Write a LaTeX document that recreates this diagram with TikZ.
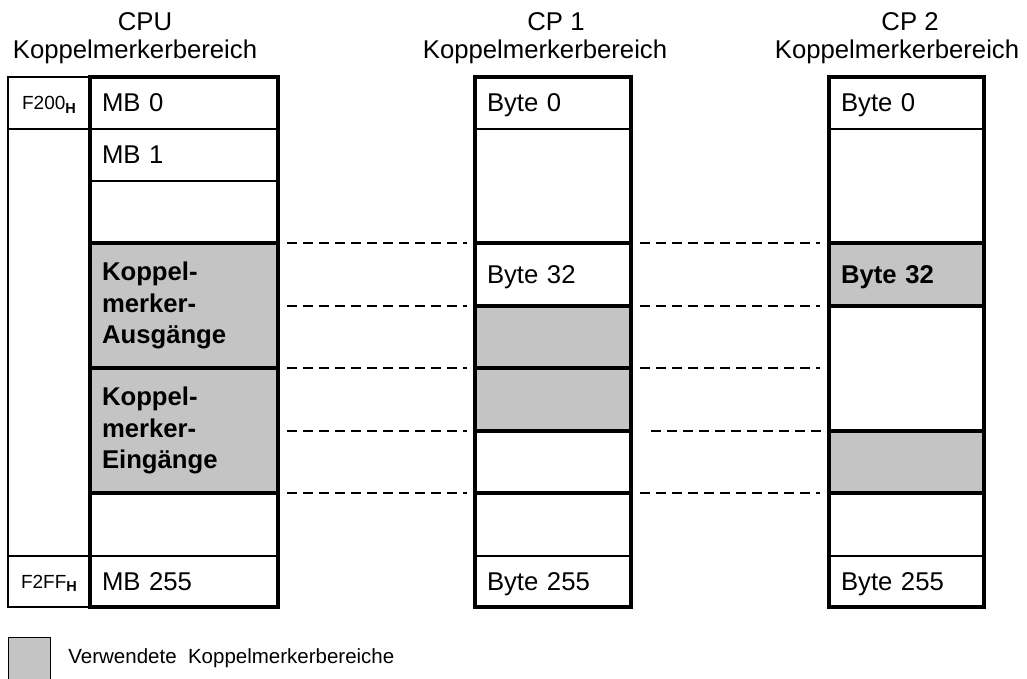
\documentclass[tikz,border=0pt]{standalone}
\usepackage{fontspec}
\setmainfont{Liberation Sans}
\usetikzlibrary{positioning}
\definecolor{usedgray}{gray}{0.77}
\newcommand{\bigfont}{\fontsize{25.7}{31.5}\selectfont}
\newcommand{\addrfont}{\fontsize{19}{22}\selectfont}

\begin{document}
\begin{tikzpicture}[x=1pt, y=-1pt,
        cell/.style={rectangle, draw=black, line width=1.6pt, anchor=north west, outer sep=0pt,
                     inner xsep=12pt, inner ysep=0pt, align=left, font=\bigfont},
        cpucell/.style={cell, text width=164pt},
        cponecell/.style={cell, text width=132pt},
        cptwocell/.style={cell, text width=131pt},
        single/.style={text depth=0pt},
        used/.style={fill=usedgray, font=\bigfont\bfseries},
        addr/.style={rectangle, draw=black, line width=1.6pt, anchor=north west, outer sep=0pt,
                     minimum width=82pt, inner sep=0pt, text depth=0pt, font=\addrfont},
        frame/.style={line width=4pt},
        link/.style={line width=1.6pt, dash pattern=on 10pt off 6pt},
        head/.style={anchor=base, inner sep=0pt, font=\bigfont}
    ]
        \useasboundingbox (0,0) rectangle (1027,679);

        % Ueberschriften
        \node[head] (cputitle) at (145,31) {CPU};
        \node[head] (cpuarea) at (135,59) {Koppelmerkerbereich};
        \node[head] (cp1title) at (556,31) {CP 1};
        \node[head] (cp1area) at (545,59) {Koppelmerkerbereich};
        \node[head] (cp2title) at (910,31) {CP 2};
        \node[head] (cp2area) at (897,59) {Koppelmerkerbereich};

        % Adressen
        \node[addr, minimum height=52pt] (adrtop) at (8,77) {F200{\fontsize{14.5}{16}\selectfont\bfseries\raisebox{-3.5pt}{H}}};
        \node[addr, minimum height=427pt] (adrmid) at (8,129) {};
        \node[addr, minimum height=51pt] (adrend) at (8,556) {F2FF{\fontsize{14.5}{16}\selectfont\bfseries\raisebox{-3.5pt}{H}}};

        % CPU
        \node[cpucell, single, minimum height=52pt] (mb0) at (90,77) {MB 0};
        \node[cpucell, single, minimum height=52pt] (mb1) at (90,129) {MB 1};
        \node[cpucell, minimum height=62pt] (mbfree) at (90,181) {};
        \node[cpucell, used, minimum height=125pt] (kmout) at (90,243) {Koppel-\\merker-\\Ausgänge};
        \node[cpucell, used, minimum height=125pt] (kmin) at (90,368) {Koppel-\\merker-\\Eingänge};
        \node[cpucell, minimum height=63pt] (mbrest) at (90,493) {};
        \node[cpucell, single, minimum height=51pt] (mb255) at (90,556) {MB 255};

        % CP 1
        \node[cponecell, single, minimum height=52pt] (ca0) at (475,77) {Byte 0};
        \node[cponecell, minimum height=114pt] (cafree) at (475,129) {};
        \node[cponecell, single, minimum height=63pt] (ca32) at (475,243) {Byte 32};
        \node[cponecell, used, minimum height=62pt] (caout) at (475,306) {};
        \node[cponecell, used, minimum height=63pt] (cain) at (475,368) {};
        \node[cponecell, minimum height=62pt] (carest) at (475,431) {};
        \node[cponecell, minimum height=63pt] (carestb) at (475,493) {};
        \node[cponecell, single, minimum height=51pt] (ca255) at (475,556) {Byte 255};

        % CP 2
        \node[cptwocell, single, minimum height=52pt] (cb0) at (829,77) {Byte 0};
        \node[cptwocell, minimum height=114pt] (cbfree) at (829,129) {};
        \node[cptwocell, used, single, minimum height=63pt] (cb32) at (829,243) {Byte 32};
        \node[cptwocell, minimum height=125pt] (cbmid) at (829,306) {};
        \node[cptwocell, used, minimum height=62pt] (cbin) at (829,431) {};
        \node[cptwocell, minimum height=63pt] (cbrest) at (829,493) {};
        \node[cptwocell, single, minimum height=51pt] (cb255) at (829,556) {Byte 255};

        % dicke Rahmen und Trennlinien
        \foreach \a/\b in {mb0/mb255, ca0/ca255, cb0/cb255}
            \draw[frame] (\a.north west) rectangle (\b.south east);
        \foreach \n in {kmout, kmin, mbrest, ca32, caout, cain, carest, carestb, cb32, cbmid, cbin, cbrest}
            \draw[frame] (\n.north west) -- (\n.north east);

        % gestrichelte Zuordnung CPU -> CP 1
        \draw[link, shorten <=9pt, shorten >=8pt] (kmout.north east) -- (ca32.north west);
        \draw[link, shorten <=9pt, shorten >=8pt] (kmout.east |- caout.north) -- (caout.north west);
        \draw[link, shorten <=9pt, shorten >=8pt] (kmin.north east) -- (cain.north west);
        \draw[link, shorten <=9pt, shorten >=8pt] (kmin.east |- carest.north) -- (carest.north west);
        \draw[link, shorten <=9pt, shorten >=8pt] (mbrest.north east) -- (carestb.north west);

        % gestrichelte Zuordnung CP 1 -> CP 2
        \draw[link, shorten <=9pt, shorten >=9pt] (ca32.north east) -- (cb32.north west);
        \draw[link, shorten <=9pt, shorten >=9pt] (caout.north east) -- (cbmid.north west);
        \draw[link, shorten <=9pt, shorten >=9pt] (cain.north east) -- (cbmid.west |- cain.north);
        \draw[link, shorten <=20pt] (carest.north east) -- (cbin.north west);
        \draw[link, shorten <=9pt, shorten >=9pt] (carestb.north east) -- (cbrest.north west);

        % Legende
        \node[rectangle, draw=black, line width=1.2pt, fill=usedgray, anchor=north west,
              minimum size=42pt, inner sep=0pt] (legbox) at (8,637) {};
        \node[inner sep=0pt, font=\fontsize{20.5}{24}\selectfont, right=17pt of legbox] (legtext)
            {Verwendete\ \ Koppelmerkerbereiche};
    \end{tikzpicture}
\end{document}
